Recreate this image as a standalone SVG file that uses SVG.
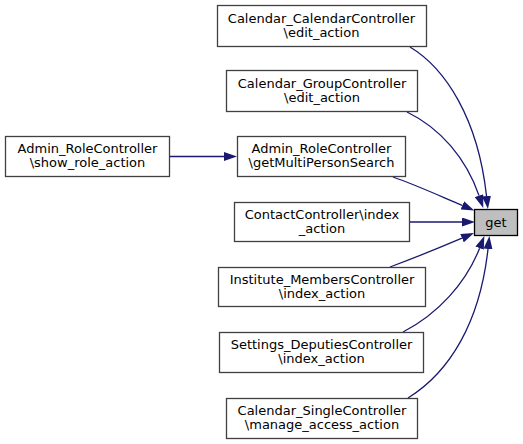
<svg xmlns="http://www.w3.org/2000/svg" width="523" height="444" viewBox="0 0 523 444">
<defs>
<style>
.node rect{fill:#ffffff;stroke:#404040;stroke-width:1.3}
.node.cur rect{fill:#bfbfbf;stroke:#000000}
text{font-family:"DejaVu Sans",sans-serif;font-size:13px;text-anchor:middle;fill:#000000}
.edges path{fill:none;stroke:#191970;stroke-width:1.3}
</style>
<marker id="ah" viewBox="0 0 13 9" refX="0" refY="4.5" markerWidth="13" markerHeight="9" markerUnits="userSpaceOnUse" orient="auto">
<path d="M0,0 L13,4.5 L0,9 z" fill="#191970"/>
</marker>
</defs>
<rect x="0" y="0" width="523" height="444" fill="#ffffff"/>
<g class="edges">
<path d="M410,47 C445,68 478,118 486.5,196" marker-end="url(#ah)"/>
<path d="M407,112 C440,128 466,158 479,195.6" marker-end="url(#ah)"/>
<path d="M169,156.5 L224,156.5" marker-end="url(#ah)"/>
<path d="M393,177 C416,185 440,196 462.3,205.4" marker-end="url(#ah)"/>
<path d="M409,222 L462,222" marker-end="url(#ah)"/>
<path d="M390,267 C414,258 439,248 462,238.2" marker-end="url(#ah)"/>
<path d="M403,332 C438,314 466,283 479.6,248.2" marker-end="url(#ah)"/>
<path d="M408,398 C450,372 480,322 488,249" marker-end="url(#ah)"/>
</g>
<g id="node_get" class="node cur">
<rect x="474.5" y="209.5" width="43" height="26"/>
<text x="496" y="227">get</text>
</g>
<g id="node_calcal" class="node">
<rect x="217.5" y="5.5" width="209" height="41"/>
<text x="321.5" y="22.5">Calendar_CalendarController</text>
<text x="321.5" y="36.5">\edit_action</text>
</g>
<g id="node_calgroup" class="node">
<rect x="226.5" y="70.5" width="191" height="41"/>
<text x="322" y="87.5">Calendar_GroupController</text>
<text x="322" y="101.5">\edit_action</text>
</g>
<g id="node_multi" class="node">
<rect x="237.5" y="136.5" width="168" height="40"/>
<text x="321.5" y="153">Admin_RoleController</text>
<text x="321.5" y="167">\getMultiPersonSearch</text>
</g>
<g id="node_showrole" class="node">
<rect x="5.5" y="136.5" width="164" height="40"/>
<text x="87.5" y="153">Admin_RoleController</text>
<text x="87.5" y="167">\show_role_action</text>
</g>
<g id="node_contact" class="node">
<rect x="234.5" y="202.5" width="175" height="39"/>
<text x="322" y="218.5">ContactController\index</text>
<text x="322" y="232.5">_action</text>
</g>
<g id="node_institute" class="node">
<rect x="218.5" y="267.5" width="207" height="39"/>
<text x="322" y="283.5">Institute_MembersController</text>
<text x="322" y="297.5">\index_action</text>
</g>
<g id="node_settings" class="node">
<rect x="219.5" y="332.5" width="204" height="40"/>
<text x="321.5" y="349">Settings_DeputiesController</text>
<text x="321.5" y="363">\index_action</text>
</g>
<g id="node_single" class="node">
<rect x="226.5" y="398.5" width="191" height="40"/>
<text x="322" y="415">Calendar_SingleController</text>
<text x="322" y="429">\manage_access_action</text>
</g>
</svg>
